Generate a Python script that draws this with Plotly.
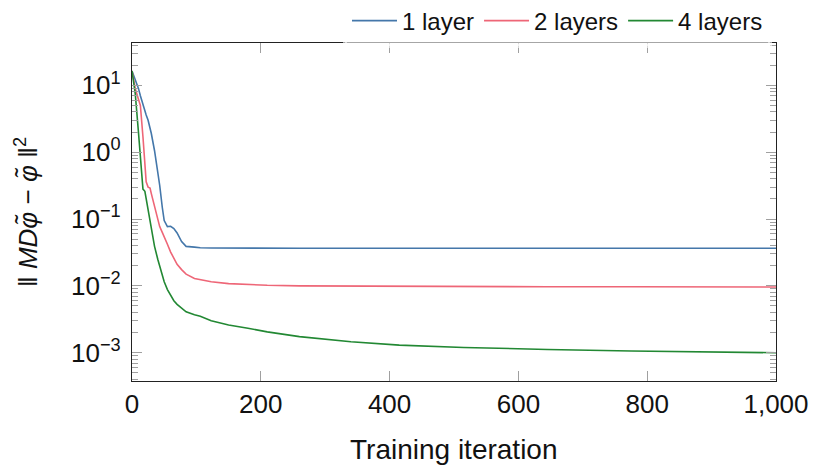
import plotly.graph_objects as go

# Training iterations at which the loss was recorded
iterations = [0, 5, 10, 13, 17, 20, 22, 25, 28, 30, 35, 40, 43, 47, 50, 55, 60, 65,
              70, 77, 84, 97, 106, 123, 150, 180, 210, 260, 340, 415, 515, 645, 775, 1000]

# Residual ||M D phi~ - phi~||^2 for each network depth
loss_1_layer = [16.4, 12.3, 9.0, 7.0, 5.0, 4.2, 3.6, 3.0, 2.4, 1.9, 1.05, 0.52, 0.32, 0.15,
                0.095, 0.077, 0.078, 0.072, 0.062, 0.046, 0.039, 0.038, 0.0372, 0.0368,
                0.0366, 0.0365, 0.0365, 0.0365, 0.0365, 0.0365, 0.0365, 0.0365, 0.0365, 0.0365]
loss_2_layers = [16.4, 9.0, 6.2, 5.0, 1.7, 0.7, 0.36, 0.30, 0.29, 0.24, 0.15, 0.095, 0.077,
                 0.063, 0.055, 0.042, 0.032, 0.026, 0.021, 0.0175, 0.015, 0.0129, 0.0124,
                 0.0115, 0.0108, 0.0104, 0.0102, 0.0100, 0.0099, 0.0098, 0.0098, 0.0097,
                 0.0097, 0.0096]
loss_4_layers = [16.4, 7.6, 2.0, 0.9, 0.28, 0.26, 0.20, 0.15, 0.10, 0.077, 0.039, 0.025,
                 0.0194, 0.014, 0.0115, 0.0088, 0.0071, 0.0060, 0.0053, 0.0046, 0.0041,
                 0.0037, 0.0035, 0.0030, 0.0026, 0.00232, 0.00205, 0.00174, 0.00146, 0.0013,
                 0.0012, 0.00112, 0.00106, 0.00100]

series_names = ["1 layer", "2 layers", "4 layers"]
series_colors = ["#4477AA", "#EE6677", "#228833"]

x_tick_vals = [0, 200, 400, 600, 800, 1000]
x_tick_text = ["0", "200", "400", "600", "800", "1,000"]
y_tick_vals = [1e-3, 1e-2, 1e-1, 1e0, 1e1]
y_tick_text = ["10<sup>\u22123</sup>", "10<sup>\u22122</sup>", "10<sup>\u22121</sup>",
               "10<sup>0</sup>", "10<sup>1</sup>"]

FONT = "Liberation Sans"
TICK_COLOR = "#a0a0a0"
LEGEND_FILL = "rgba(255,255,255,0.6)"

fig = go.Figure()
for name, color, values in zip(series_names, series_colors,
                               [loss_1_layer, loss_2_layers, loss_4_layers]):
    fig.add_trace(go.Scatter(x=iterations, y=values, mode="lines", name=name,
                             line=dict(color=color, width=1.6)))

fig.update_layout(
    width=814, height=465,
    margin=dict(l=132, r=38, t=43, b=84, autoexpand=False),
    paper_bgcolor="white", plot_bgcolor="white",
    font=dict(family=FONT, size=26, color="#111"),
    showlegend=True,
    legend=dict(orientation="h", xanchor="right", x=(772 - 132) / 644,
                yanchor="middle", y=1 + (43 - 21) / 338,
                bgcolor=LEGEND_FILL, bordercolor=LEGEND_FILL, borderwidth=4,
                font=dict(family=FONT, size=24), itemwidth=45),
    annotations=[dict(text="Training iteration", xref="paper", yref="paper",
                      x=0.5, y=(381 - 449) / 338,
                      xanchor="center", yanchor="middle", showarrow=False,
                      font=dict(family=FONT, size=28))],
)

fig.update_xaxes(
    range=[0, 1000], tickvals=x_tick_vals, ticktext=x_tick_text,
    showgrid=False, zeroline=False,
    showline=True, linecolor="#222", linewidth=1.3, mirror="allticks",
    ticks="inside", ticklen=10, tickcolor=TICK_COLOR, tickwidth=1,
    ticklabelstandoff=0,
)
fig.update_yaxes(
    type="log", range=[-3.423, 1.633], tickvals=y_tick_vals, ticktext=y_tick_text,
    showgrid=False, zeroline=False,
    showline=True, linecolor="#222", linewidth=1.3, mirror="allticks",
    ticks="inside", ticklen=10, tickcolor=TICK_COLOR, tickwidth=1,
    minor=dict(ticks="inside", ticklen=6, tickcolor=TICK_COLOR, tickwidth=1,
               dtick="D1", showgrid=False),
    ticklabelstandoff=5,
    title=dict(text="\u2016 <i>MD\u03c6\u0303</i> \u2212 <i>\u03c6\u0303</i> \u2016<sup>2</sup>",
               standoff=25, font=dict(family=FONT, size=26)),
)

fig.write_html("out.html")
